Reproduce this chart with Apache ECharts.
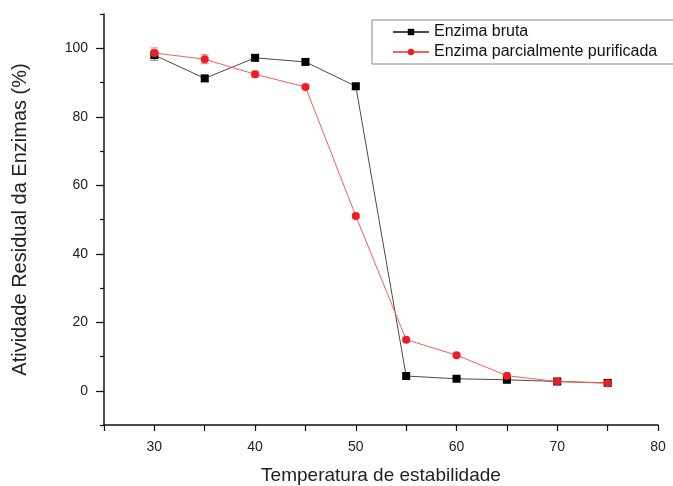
<!DOCTYPE html>
<html>
<head>
<meta charset="utf-8">
<script src="https://cdn.jsdelivr.net/npm/echarts@6/dist/echarts.min.js"></script>
<style>
  html, body { margin: 0; padding: 0; background: #fff; }
  #main { width: 673px; height: 486px; }
</style>
</head>
<body>
<div id="main"></div>
<script>
    var temps = [30, 35, 40, 45, 50, 55, 60, 65, 70, 75];
    var brutaVals = [98.0, 91.2, 97.2, 96.0, 88.9, 4.3, 3.5, 3.2, 2.7, 2.3];
    var brutaErr = [1.5, 0.9, 0.8, 0.6, 0.8, 0.3, 0.3, 0.3, 0.3, 0.2];
    var purifVals = [98.6, 96.8, 92.4, 88.7, 51.0, 14.9, 10.4, 4.4, 2.7, 2.2];
    var purifErr = [1.5, 1.3, 0.9, 0.4, 0.5, 0.4, 0.4, 0.4, 0.3, 0.3];
    var yTickLabels = [0, 20, 40, 60, 80, 100];
    var xTickLabels = [30, 40, 50, 60, 70, 80];

    initChart();

    function pairs(xs, ys) {
        return xs.map(function (x, i) { return [x, ys[i]]; });
    }

    function errorData(xs, ys, es) {
        return xs.map(function (x, i) { return [x, ys[i] - es[i], ys[i] + es[i]]; });
    }

    function errorSeries(data, color) {
        return {
            type: 'custom',
            silent: true,
            z: 1,
            data: data,
            renderItem: function (params, api) {
                var lo = api.coord([api.value(0), api.value(1)]);
                var hi = api.coord([api.value(0), api.value(2)]);
                var w = 4;
                var style = { stroke: color, lineWidth: 1 };
                return {
                    type: 'group',
                    children: [
                        { type: 'line', shape: { x1: lo[0], y1: lo[1], x2: hi[0], y2: hi[1] }, style: style },
                        { type: 'line', shape: { x1: lo[0] - w, y1: lo[1], x2: lo[0] + w, y2: lo[1] }, style: style },
                        { type: 'line', shape: { x1: hi[0] - w, y1: hi[1], x2: hi[0] + w, y2: hi[1] }, style: style }
                    ]
                };
            }
        };
    }

    function initChart() {
        var chartDom = document.getElementById('main');
        var myChart = echarts.init(chartDom, null, { renderer: 'canvas' });
        var font = 'Liberation Sans, Arial, sans-serif';

        var option = {
            backgroundColor: '#fff',
            animation: false,
            textStyle: { fontFamily: font },
            grid: {
                left: 104,
                right: 15,
                top: 14,
                bottom: 61,
                containLabel: false,
                outerBoundsMode: 'none'
            },
            legend: {
                orient: 'vertical',
                left: 372,
                top: 20,
                padding: [4, 40, 4, 20],
                itemGap: 4,
                itemWidth: 36,
                itemHeight: 8,
                borderColor: '#888',
                borderWidth: 1,
                textStyle: { fontFamily: font, fontSize: 16, color: '#111' },
                data: ['Enzima bruta', 'Enzima parcialmente purificada']
            },
            xAxis: {
                type: 'value',
                min: 25,
                max: 80,
                interval: 5,
                name: 'Temperatura de estabilidade',
                nameLocation: 'middle',
                nameGap: 41,
                nameTextStyle: { fontFamily: font, fontSize: 19, color: '#222' },
                axisLine: { onZero: false, lineStyle: { color: '#111', width: 1.5 } },
                axisTick: { length: 6, lineStyle: { color: '#111', width: 1.2 } },
                axisLabel: {
                    fontFamily: font,
                    fontSize: 14,
                    color: '#222',
                    margin: 15,
                    formatter: function (v) {
                        return xTickLabels.indexOf(v) >= 0 ? String(v) : '';
                    }
                },
                splitLine: { show: false }
            },
            yAxis: [
                {
                    type: 'value',
                    min: -10,
                    max: 110,
                    interval: 10,
                    name: 'Atividade Residual da Enzimas (%)',
                    nameLocation: 'middle',
                    nameGap: 74,
                    nameTextStyle: { fontFamily: font, fontSize: 20, color: '#222' },
                    axisLine: { show: true, onZero: false, lineStyle: { color: '#111', width: 1.5 } },
                    axisTick: { show: true, length: 8, customValues: yTickLabels, lineStyle: { color: '#111', width: 1.2 } },
                    axisLabel: {
                        fontFamily: font,
                        fontSize: 14,
                        color: '#222',
                        margin: 16,
                        customValues: yTickLabels
                    },
                    splitLine: { show: false }
                },
                {
                    type: 'value',
                    position: 'left',
                    min: -10,
                    max: 110,
                    interval: 10,
                    axisLine: { show: false },
                    axisTick: { show: true, length: 4, lineStyle: { color: '#111', width: 1.2 } },
                    axisLabel: { show: false },
                    splitLine: { show: false }
                }
            ],
            series: [
                errorSeries(errorData(temps, brutaVals, brutaErr), '#888'),
                errorSeries(errorData(temps, purifVals, purifErr), '#f08080'),
                {
                    name: 'Enzima bruta',
                    type: 'line',
                    z: 2,
                    symbol: 'rect',
                    symbolSize: 8,
                    itemStyle: { color: '#000' },
                    lineStyle: { color: '#4a4a4a', width: 1 },
                    data: pairs(temps, brutaVals)
                },
                {
                    name: 'Enzima parcialmente purificada',
                    type: 'line',
                    z: 3,
                    symbol: 'circle',
                    symbolSize: 8,
                    itemStyle: { color: '#ee1c25' },
                    lineStyle: { color: '#ff5a5a', width: 1 },
                    data: pairs(temps, purifVals)
                }
            ]
        };

        option && myChart.setOption(option);
    }
</script>
</body>
</html>
